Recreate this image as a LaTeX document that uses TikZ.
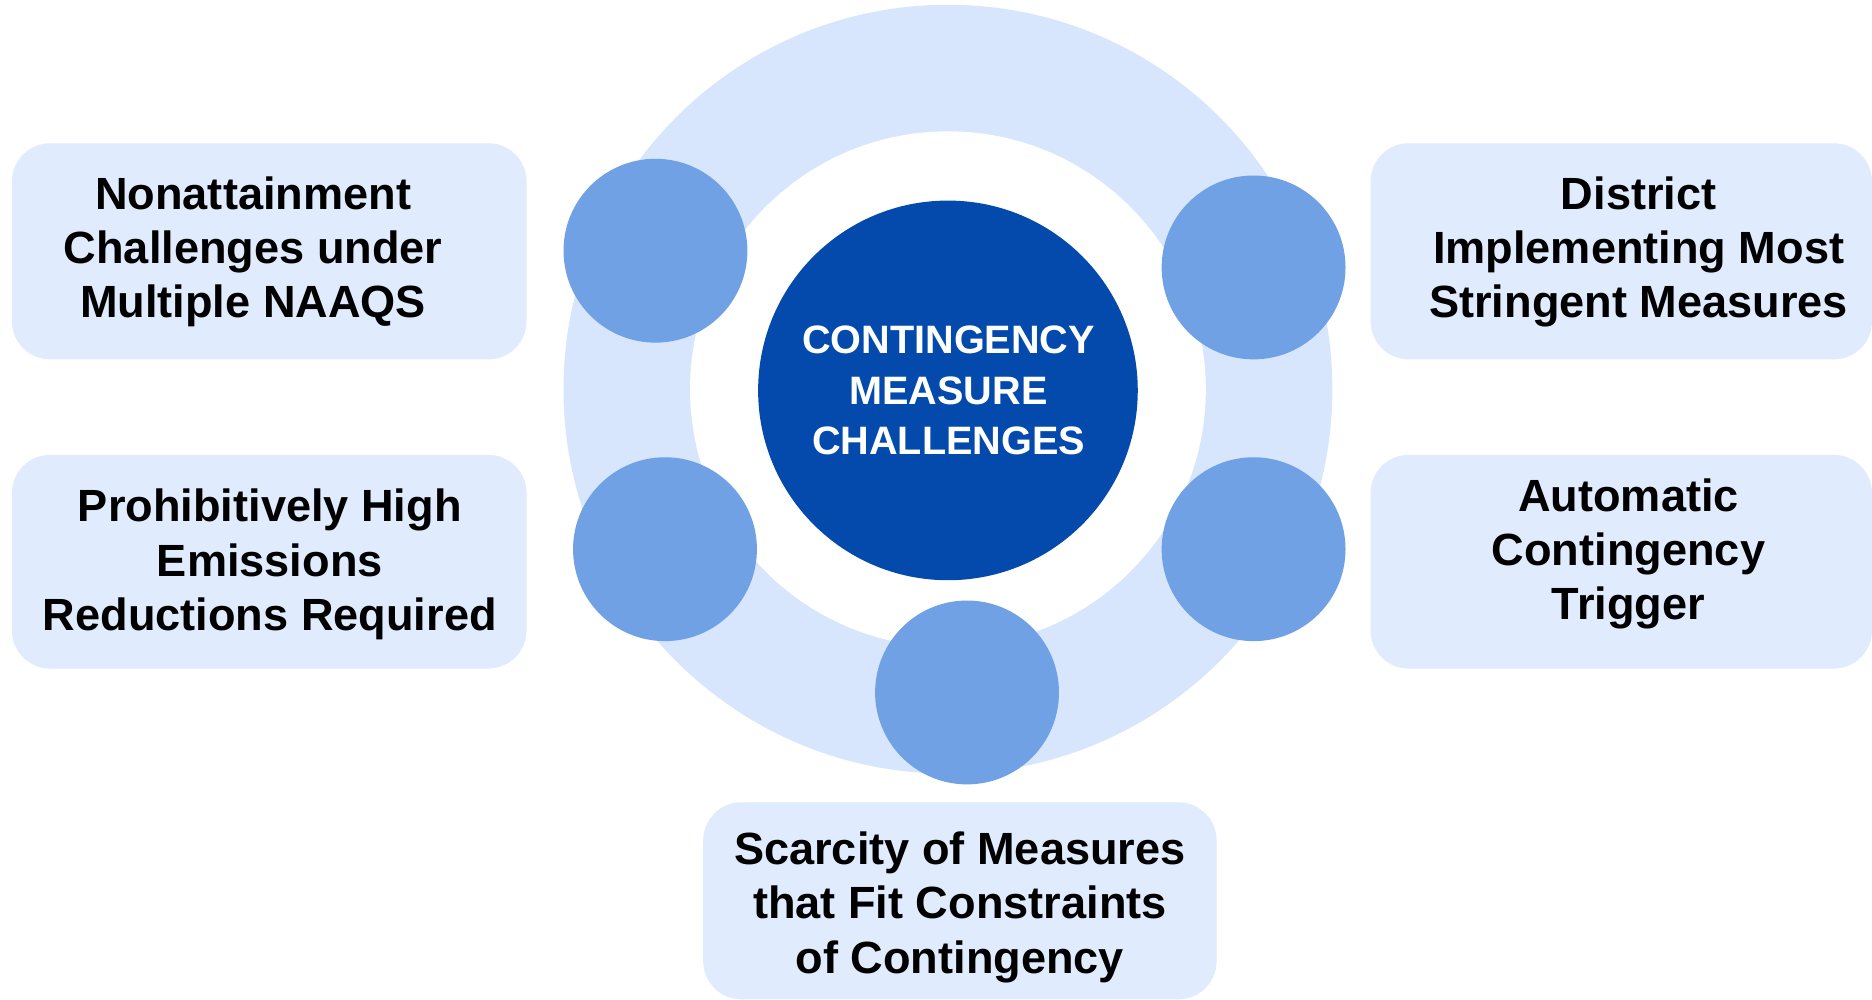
\documentclass[tikz,border=0pt]{standalone}
\usepackage{fontspec}
\setmainfont{Liberation Sans}
\definecolor{ringc}{HTML}{D7E6FC}
\definecolor{boxc}{HTML}{E0EBFD}
\definecolor{dotc}{HTML}{6FA1E4}
\definecolor{corec}{HTML}{034AAC}
\tikzset{
  panel/.style={fill=boxc, draw=none, rounded corners=32pt},
  dot/.style={circle, fill=dotc, draw=none, minimum size=154pt, inner sep=0pt},
  label/.style={align=center, inner sep=0pt, text=black,
    font=\fontsize{37.8}{45.5}\selectfont\bfseries},
  corelabel/.style={align=center, inner sep=0pt, text=white,
    font=\fontsize{33.2}{42.5}\selectfont\bfseries},
}
\begin{document}
\begin{tikzpicture}[x=1pt,y=-1pt]
\useasboundingbox (0,0) rectangle (1568,837);
\fill[white] (0,0) rectangle (1568,837);
% ring
\node[circle, fill=ringc, minimum size=644pt, inner sep=0pt] (ring) at (794,326) {};
\node[circle, fill=white, minimum size=432pt, inner sep=0pt] (hole) at (794,326) {};
% core
\node[circle, fill=corec, minimum size=318pt, inner sep=0pt] (core) at (794,327) {};
\node[corelabel] (coretext) at (794.5,330) {\strut CONTINGENCY\\\strut MEASURE\\\strut CHALLENGES};
% dots
\node[dot] (d1) at (549,210) {};
\node[dot] (d2) at (557,460) {};
\node[dot] (d3) at (1050,224) {};
\node[dot] (d4) at (1050,460) {};
\node[dot] (d5) at (810,580) {};
% panels
\path[panel] (10,120) rectangle (441,301);
\node (p1) at (225,210) {};
\path[panel] (10,381) rectangle (441,560);
\node (p2) at (225,470) {};
\path[panel] (1148,120) rectangle (1568,301);
\node (p3) at (1358,210) {};
\path[panel] (1148,381) rectangle (1568,560);
\node (p4) at (1358,470) {};
\path[panel] (589,672) rectangle (1019,837);
\node (p5) at (804,754) {};
% labels
\node[label] (t1) at (212,211.5) {\strut Nonattainment\\\strut Challenges under\\\strut Multiple NAAQS};
\node[label] (t2) at (226,473.5) {\strut Prohibitively High\\\strut Emissions\\\strut Reductions Required};
\node[label] (t3) at (1372.5,211.5) {\strut District\\\strut Implementing Most\\\strut Stringent Measures};
\node[label] (t4) at (1364,464.5) {\strut Automatic\\\strut Contingency\\\strut Trigger};
\node[label] (t5) at (804,760.5) {\strut Scarcity of Measures\\\strut that Fit Constraints\\\strut of Contingency};
\end{tikzpicture}
\end{document}
